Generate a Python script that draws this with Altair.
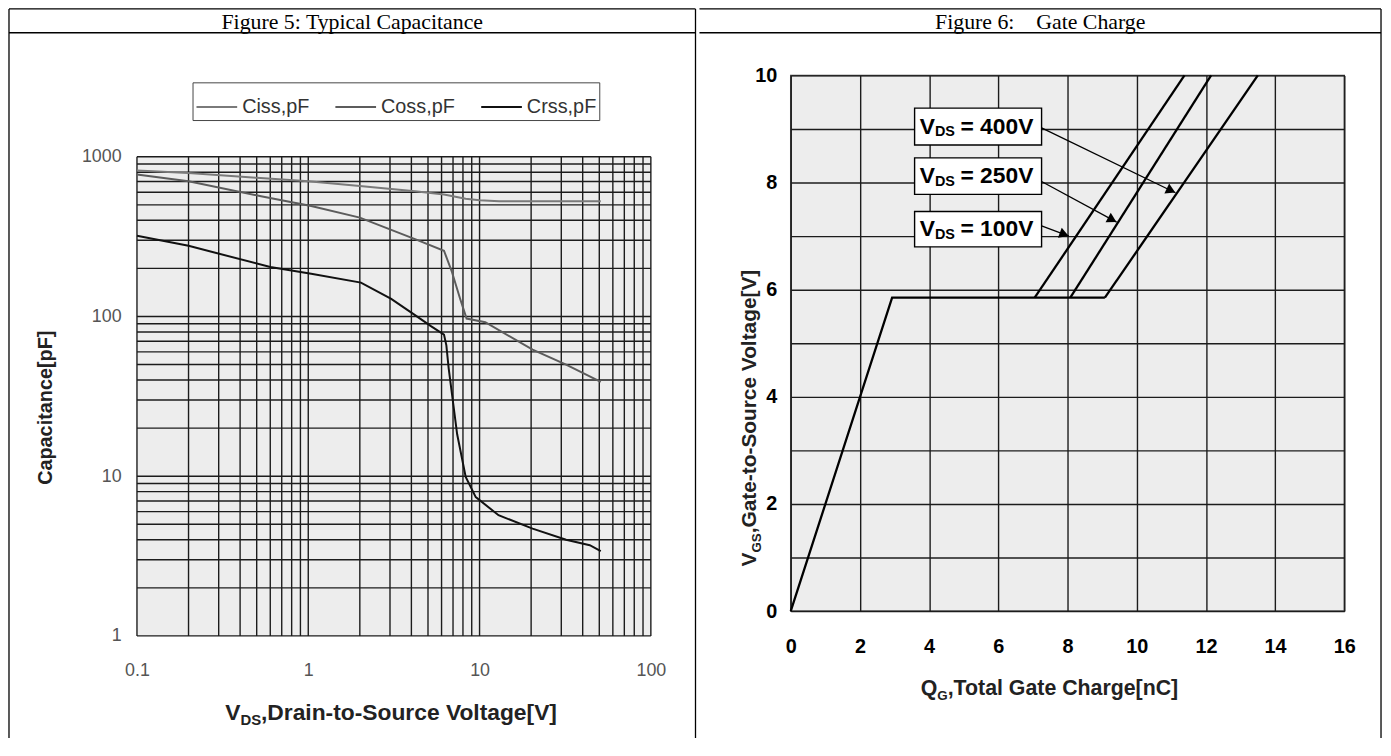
import math
import altair as alt
import pandas as pd

# ---------------- Figure 5: Typical Capacitance (log-log) ----------------
ciss_v = [0.1, 0.2, 0.5, 1.0, 2.0, 4.2, 6.2, 8.3, 10.0, 13.0, 20.0, 51.0]
ciss_c = [820, 790, 738, 703, 655, 609, 581, 546, 535, 527, 527, 527]
coss_v = [0.1, 0.2, 0.53, 1.04, 2.0, 4.2, 6.2, 6.9, 7.7, 8.4, 10.8, 20.4, 32.0, 51.0]
coss_c = [775, 703, 566, 491, 416, 305, 258, 190, 129, 97, 92, 62, 50, 39]
crss_v = [0.1, 0.2, 0.6, 1.04, 2.03, 3.05, 4.2, 5.2, 6.2, 6.4, 6.6, 7.4, 8.3, 9.5,
          12.9, 20.4, 32.0, 44.0, 51.0]
crss_c = [320, 277, 204, 185, 163, 129, 102, 87, 77, 66, 47.5, 18.3, 9.9, 7.4,
          5.7, 4.7, 4.0, 3.7, 3.4]
series5 = ["Ciss,pF", "Coss,pF", "Crss,pF"]

x5_decades = [0.1, 1, 10, 100]
x5_labels = ["0.1", "1", "10", "100"]
y5_decades = [1, 10, 100, 1000]
y5_labels = ["1", "10", "100", "1000"]
mantissas = [1, 2, 3, 4, 5, 6, 7, 8, 9]

# ---------------- Figure 6: Gate Charge ----------------
qg_main = [0.0, 2.93, 9.08]
vgs_main = [0.0, 5.85, 5.85]
vds_names = ["100V", "250V", "400V"]
vds_q0 = [7.05, 8.08, 9.08]
vds_v0 = [5.85, 5.85, 5.85]
vds_q1 = [11.38, 12.15, 13.5]
vds_v1 = [10.0, 10.0, 10.0]
box_q0 = [3.58, 3.58, 3.58]
box_q1 = [7.25, 7.25, 7.25]
box_v0 = [6.80, 7.78, 8.70]
box_v1 = [7.46, 8.46, 9.39]
box_text_q = [3.73, 3.73, 3.73]
box_rest = ["= 100V", "= 250V", "= 400V"]
arr_q0 = [7.25, 7.25, 7.25]
arr_v0 = [7.19, 8.02, 9.02]
arr_q1 = [8.04, 9.42, 11.12]
arr_v1 = [7.00, 7.26, 7.81]
x6_ticks = [0, 2, 4, 6, 8, 10, 12, 14, 16]
y6_ticks = [0, 1, 2, 3, 4, 5, 6, 7, 8, 9, 10]

# ---------------- layout (pixels) ----------------
W5, H5_PLOT, GAP5 = 518, 483, 82     # left plot area, plus empty band above it (legend area)
H5 = H5_PLOT + GAP5
W6, H6 = 558, 540
SANS = "Liberation Sans"
SERIF = "Liberation Serif"
GRID = "#1c1c1c"
BG = "#EDEDED"

one = pd.DataFrame({"k": [0]})


def vrule(x, y1, y2, w=1.3, opacity=1.0):
    return alt.Chart(one).mark_rule(color="black", strokeWidth=w, strokeOpacity=opacity).encode(
        x=alt.value(x), y=alt.value(y1), y2=alt.value(y2))


def hrule(y, x1, x2, w=1.3):
    return alt.Chart(one).mark_rule(color="black", strokeWidth=w).encode(
        y=alt.value(y), x=alt.value(x1), x2=alt.value(x2))


def txt(text, x, y, size, **kw):
    return alt.Chart(one).mark_text(text=text, fontSize=size, **kw).encode(
        x=alt.value(x), y=alt.value(y))


def label_expr(vals, labels):
    parts = [f"datum.value == {v} ? '{l}'" for v, l in zip(vals, labels)]
    return " : ".join(parts) + " : ''"


def log_grid(decades):
    vals = [round(d * m, 6) for d in decades[:-1] for m in mantissas]
    return vals + [decades[-1]]


# ---------------- left panel ----------------
rows = []
for name, vs, cs in zip(series5, [ciss_v, coss_v, crss_v], [ciss_c, coss_c, crss_c]):
    for v, c in zip(vs, cs):
        rows.append({"V": v, "C": c, "series": name})
df5 = pd.DataFrame(rows)

# empty band above the 1000 pF line holds the legend
y5_max = y5_decades[-1] * 10 ** (GAP5 / (H5_PLOT / 3.0))
x5_scale = alt.Scale(type="log", domain=[x5_decades[0], x5_decades[-1]], nice=False)
y5_scale = alt.Scale(type="log", domain=[y5_decades[0], y5_max], nice=False)
x5_axis = alt.Axis(values=x5_decades, labelExpr=label_expr(x5_decades, x5_labels),
                   grid=False, ticks=False, domain=False, labelPadding=26, labelFont=SANS,
                   labelFontSize=18, labelColor="#555", title=None, labelFlush=False, labelOverlap=False)
y5_axis = alt.Axis(values=y5_decades, labelExpr=label_expr(y5_decades, y5_labels),
                   grid=False, ticks=False, domain=False, labelPadding=16, labelFont=SANS,
                   labelFontSize=18, labelColor="#555", title=None, labelFlush=False, labelOverlap=False)

bg5 = alt.Chart(one).mark_rect(fill=BG).encode(
    x=alt.X(datum=x5_decades[0], scale=x5_scale, axis=x5_axis),
    x2=alt.X2(datum=x5_decades[-1]),
    y=alt.Y(datum=y5_decades[0], scale=y5_scale, axis=y5_axis),
    y2=alt.Y2(datum=y5_decades[-1]))
vgrid5 = alt.Chart(pd.DataFrame({"g": log_grid(x5_decades)})).mark_rule(
    color=GRID, strokeWidth=1.4).encode(
    x=alt.X("g:Q"), y=alt.Y(datum=y5_decades[0]), y2=alt.Y2(datum=y5_decades[-1]))
hgrid5 = alt.Chart(pd.DataFrame({"g": log_grid(y5_decades)})).mark_rule(
    color=GRID, strokeWidth=1.4).encode(
    y=alt.Y("g:Q"), x=alt.X(datum=x5_decades[0]), x2=alt.X2(datum=x5_decades[-1]))

lines5 = alt.Chart(df5).mark_line().encode(
    x=alt.X("V:Q"), y=alt.Y("C:Q"),
    color=alt.Color("series:N",
                    scale=alt.Scale(domain=series5, range=["#7a7a7a", "#5c5c5c", "#111111"]),
                    legend=alt.Legend(orient="none", legendX=56, legendY=7, direction="horizontal",
                                      title=None, symbolType="stroke", symbolSize=1681,
                                      symbolStrokeWidth=2, labelFont=SANS, labelFontSize=20,
                                      labelColor="#333", labelOffset=4, columnPadding=22,
                                      padding=3, strokeColor="#444", fillColor="white")),
    strokeWidth=alt.StrokeWidth("series:N", scale=alt.Scale(domain=series5, range=[2.0, 2.0, 2.6]),
                                legend=None),
)

L_left, L_right, L_top, L_head, L_bot = -129, 563, -67, -43, 668
left = alt.layer(
    bg5, vgrid5, hgrid5, lines5,
    vrule(L_left, L_top, L_bot),
    vrule(L_right, L_top, L_bot),
    hrule(L_top, L_left, L_right),
    hrule(L_head, L_left, L_right),
    txt("Figure 5: Typical Capacitance", (L_left + L_right) / 2, (L_top + L_head) / 2 + 1, 22,
        font=SERIF, align="center", baseline="middle", color="black"),
    txt("Capacitance[pF]", -92, 335, 20, font=SANS, fontWeight="bold", angle=270,
        align="center", baseline="middle", color="#222"),
    txt("V", 89, 650, 23, font=SANS, fontWeight="bold", align="left", baseline="alphabetic", color="#222"),
    txt("DS", 104.3, 655, 15, font=SANS, fontWeight="bold", align="left", baseline="alphabetic", color="#222"),
    txt(",Drain-to-Source Voltage[V]", 125, 650, 23, font=SANS, fontWeight="bold", align="left",
        baseline="alphabetic", color="#222"),
).properties(width=W5, height=H5,
             view=alt.ViewBackground(fill="transparent", stroke="transparent"))

# ---------------- right panel ----------------
PXX = W6 / 16.0
PXY = H6 / 10.0

x6s = alt.Scale(domain=[0, 16], nice=False)
y6s = alt.Scale(domain=[0, 10], nice=False)
x6 = alt.X("q:Q", scale=x6s,
           axis=alt.Axis(values=x6_ticks, grid=True, gridColor=GRID, gridWidth=1.4, gridOpacity=1,
                         ticks=False, domain=False, labelPadding=26, labelFont=SANS, labelFontSize=20,
                         labelFontWeight="bold", labelColor="black", title=None, labelFlush=False,
                         labelOverlap=False))
y6 = alt.Y("v:Q", scale=y6s,
           axis=alt.Axis(values=y6_ticks, labelExpr="datum.value % 2 == 0 ? datum.label : ''",
                         grid=True, gridColor=GRID, gridWidth=1.4, gridOpacity=1, ticks=False,
                         domain=False, labelPadding=14, labelFont=SANS, labelFontSize=20,
                         labelFontWeight="bold", labelColor="black", title=None, labelFlush=False,
                         labelOverlap=False))

df_main = pd.DataFrame({"q": qg_main, "v": vgs_main})
main_line = alt.Chart(df_main).mark_line(color="black", strokeWidth=2.3).encode(x=x6, y=y6)

vrows = []
for n, a, b, c, d in zip(vds_names, vds_q0, vds_v0, vds_q1, vds_v1):
    vrows.append({"name": n, "q": a, "v": b, "o": 0})
    vrows.append({"name": n, "q": c, "v": d, "o": 1})
df_vds = pd.DataFrame(vrows)
vds_lines = alt.Chart(df_vds).mark_line(color="black", strokeWidth=2.3).encode(
    x="q:Q", y="v:Q", detail="name:N", order="o:Q")

df_box = pd.DataFrame({"name": vds_names, "q0": box_q0, "q1": box_q1, "v0": box_v0, "v1": box_v1,
                       "tq": box_text_q, "rest": box_rest,
                       "vm": [(a + b) / 2 for a, b in zip(box_v0, box_v1)]})
boxes = alt.Chart(df_box).mark_rect(fill="white", stroke="black", strokeWidth=1.4).encode(
    x="q0:Q", x2="q1", y="v0:Q", y2="v1")
t_v = alt.Chart(df_box).mark_text(text="V", font=SANS, fontWeight="bold", fontSize=23, align="left",
                                  baseline="middle", color="black").encode(x="tq:Q", y="vm:Q")
t_ds = alt.Chart(df_box).mark_text(text="DS", font=SANS, fontWeight="bold", fontSize=14.5, align="left",
                                   baseline="middle", color="black", dx=15.3, dy=6).encode(x="tq:Q", y="vm:Q")
t_rest = alt.Chart(df_box).mark_text(font=SANS, fontWeight="bold", fontSize=23, align="left",
                                     baseline="middle", color="black", dx=41).encode(
    x="tq:Q", y="vm:Q", text="rest:N")

arr = []
for n, a, b, c, d in zip(vds_names, arr_q0, arr_v0, arr_q1, arr_v1):
    dxp = (c - a) * PXX
    dyp = (b - d) * PXY
    ang = math.degrees(math.atan2(dyp, dxp))
    L = math.hypot(dxp, dyp)
    back = 5.0
    hq = c - (dxp / L) * back / PXX
    hv = d + (dyp / L) * back / PXY
    arr.append({"name": n, "q0": a, "v0": b, "q1": c, "v1": d, "hq": hq, "hv": hv, "ang": 90 + ang})
df_arr = pd.DataFrame(arr)
arrow_lines = alt.Chart(df_arr).mark_rule(color="black").encode(
    x="q0:Q", y="v0:Q", x2="q1", y2="v1",
    strokeWidth=alt.StrokeWidth("name:N", scale=alt.Scale(domain=vds_names, range=[1.3, 1.3, 2.2]),
                                legend=None))
arrow_heads = alt.Chart(df_arr).mark_point(shape="triangle-up", filled=True, size=120, color="black",
                                           opacity=1).encode(
    x="hq:Q", y="hv:Q", angle=alt.Angle("ang:Q", scale=None))

R_left, R_right, R_top, R_head, R_bot = -92, 595, -67, -43, 668
YT = -35   # baseline (right edge) of the rotated y title
right = alt.layer(
    main_line, vds_lines, arrow_lines, arrow_heads, boxes, t_v, t_ds, t_rest,
    vrule(R_left, R_top, R_bot, opacity=0.0),
    vrule(R_right, R_top, R_bot),
    hrule(R_top, R_left, R_right),
    hrule(R_head, R_left, R_right),
    txt("Figure 6:\u00a0\u00a0\u00a0\u00a0Gate Charge", (R_left + R_right) / 2, (R_top + R_head) / 2 + 1, 22,
        font=SERIF, align="center", baseline="middle", color="black"),
    txt("V", YT, 495, 21, font=SANS, fontWeight="bold", angle=270, align="left",
        baseline="alphabetic", color="#222"),
    txt("GS", YT + 5, 481, 13.5, font=SANS, fontWeight="bold", angle=270, align="left",
        baseline="alphabetic", color="#222"),
    txt(",Gate-to-Source Voltage[V]", YT, 461.5, 21, font=SANS, fontWeight="bold", angle=270,
        align="left", baseline="alphabetic", color="#222"),
    txt("Q", 131, 625, 21.5, font=SANS, fontWeight="bold", align="left", baseline="alphabetic", color="#222"),
    txt("G", 147.7, 630, 13.5, font=SANS, fontWeight="bold", align="left", baseline="alphabetic",
        color="#222"),
    txt(",Total Gate Charge[nC]", 158.2, 625, 21.5, font=SANS, fontWeight="bold", align="left",
        baseline="alphabetic", color="#222"),
).properties(width=W6, height=H6,
             view=alt.ViewBackground(fill=BG, stroke="#444", strokeWidth=1.5))

chart = alt.hconcat(left, right, spacing=0).properties(
    padding={"top": -4, "left": -1, "right": 0, "bottom": 0}, background="white"
).resolve_scale(
    color="independent", strokeWidth="independent"
).resolve_legend(
    color="independent", strokeWidth="independent"
).configure(font=SANS)

chart.save("out.html", embed_options={"renderer": "svg", "actions": False})
